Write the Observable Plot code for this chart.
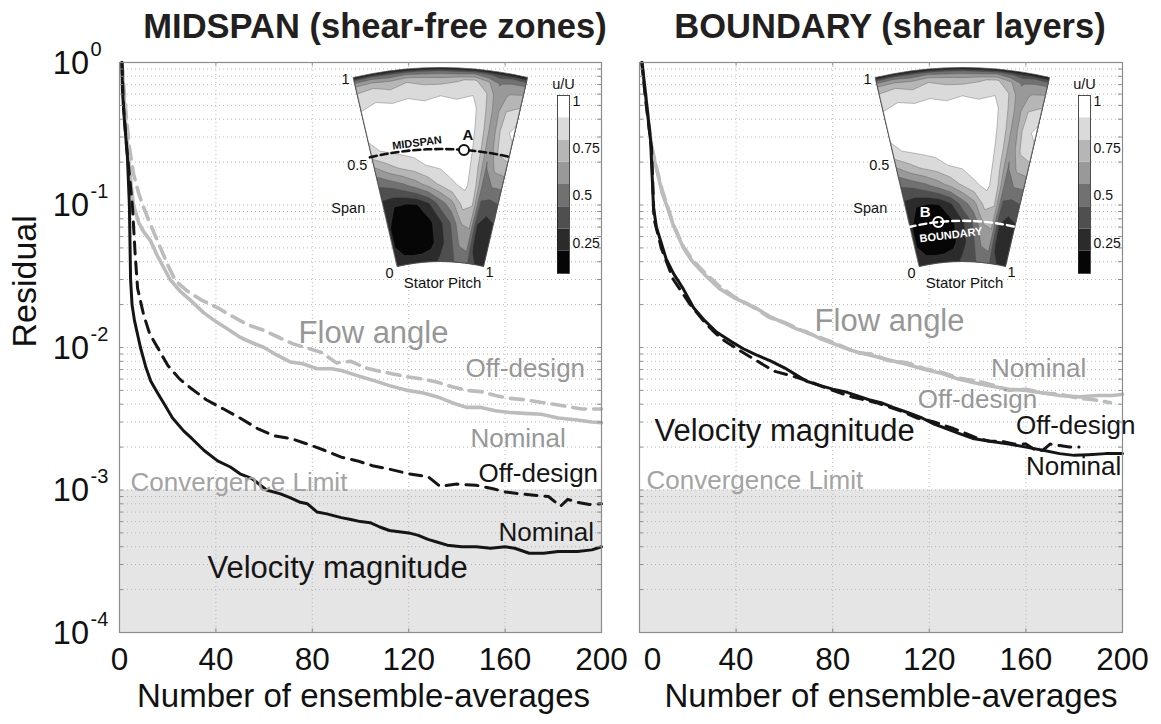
<!DOCTYPE html>
<html>
<head>
<meta charset="utf-8">
<script src="https://cdn.jsdelivr.net/npm/d3@7"></script>
<script src="https://cdn.jsdelivr.net/npm/@observablehq/plot@0.6"></script>
<style>
  body { margin: 0; background: #fff; }
  #chart { position: relative; width: 1161px; height: 724px; overflow: hidden; font-family: "Liberation Sans", Arial, sans-serif; }
  .layer { position: absolute; }
  .title { position: absolute; top: 9px; width: 600px; line-height: 1; font-weight: bold; font-size: 34.5px; color: #231f20; text-align: center; white-space: nowrap; }
</style>
</head>
<body>
<div id="chart"></div>
<script>
// ---------------------------------------------------------------------------
// Axes
const xTicks = [0, 40, 80, 120, 160, 200];
const decades = [1e-4, 1e-3, 1e-2, 1e-1, 1];
const convergenceLimit = 1e-3;

// ---------------------------------------------------------------------------
// Residual histories: [number of ensemble-averages, residual]
const midspanFlowNominal = [
  [1, 1.0], [1.7, 0.64], [2.5, 0.38], [3.7, 0.215], [5, 0.13], [5.8, 0.1], [8, 0.075], [10, 0.065],
  [12.9, 0.056], [16, 0.043], [21, 0.030], [25, 0.025], [29.5, 0.0214], [35, 0.0175], [40, 0.0152],
  [46, 0.0131], [50, 0.0118], [55, 0.0108], [60, 0.0100], [65, 0.0089], [71, 0.0079], [76, 0.0077],
  [82, 0.0071], [88, 0.0071], [92, 0.0069], [98, 0.0064], [105, 0.0059], [112, 0.0054], [119.5, 0.0050],
  [126, 0.0048], [132, 0.0045], [138, 0.0041], [144, 0.0038], [150, 0.0038], [156, 0.0036],
  [162, 0.0035], [168, 0.00345], [175, 0.0034], [182, 0.0032], [190, 0.0031], [196, 0.0030], [200, 0.00297]
];
const midspanFlowOffDesign = [
  [1, 1.0], [2.5, 0.48], [4, 0.26], [5.8, 0.166], [8, 0.12], [10, 0.096], [13, 0.072], [17, 0.05],
  [20, 0.038], [23.2, 0.0295], [28, 0.025], [34, 0.0215], [40.7, 0.019], [47, 0.0165], [53, 0.0145],
  [59.8, 0.0132], [66, 0.0118], [72, 0.0106], [78, 0.0099], [84, 0.0092], [90, 0.0078], [96, 0.0080],
  [102, 0.0072], [108, 0.0068], [114, 0.0065], [120, 0.0062], [126, 0.0060], [132, 0.0057],
  [138, 0.0053], [144, 0.0050], [150, 0.0049], [156, 0.0046], [162, 0.0044], [168, 0.0043],
  [176, 0.0041], [184, 0.0039], [192, 0.0037], [200, 0.0037]
];
const midspanVelocityNominal = [
  [1, 1.0], [1.2, 0.64], [2, 0.4], [3.3, 0.215], [4.1, 0.1], [4.6, 0.03], [5.2, 0.02], [6.2, 0.0155],
  [8.7, 0.01], [11, 0.0072], [13, 0.0058], [15.8, 0.0048], [19, 0.0039], [22, 0.0032], [26.6, 0.0026],
  [30, 0.0023], [35, 0.0019], [40.7, 0.0016], [46, 0.00145], [50, 0.0013], [55, 0.0012], [58.5, 0.00108],
  [61, 0.00100], [66.8, 0.00094], [71, 0.00088], [75, 0.00082], [78, 0.00080], [82, 0.00070],
  [86, 0.00068], [92, 0.00064], [96, 0.00062], [100, 0.00060], [104, 0.00059], [108, 0.00055],
  [112, 0.00052], [116, 0.00051], [120, 0.00050], [124, 0.00048], [128, 0.00045], [132, 0.00043],
  [136, 0.00041], [142, 0.00040], [148, 0.00040], [154, 0.00039], [160, 0.00040], [164, 0.00039],
  [170, 0.00036], [176, 0.00036], [182, 0.00037], [190, 0.00037], [196, 0.00038], [200, 0.00040]
];
const midspanVelocityOffDesign = [
  [1, 1.0], [1.7, 0.48], [3, 0.25], [4.5, 0.14], [5.4, 0.096], [6.5, 0.045], [7.5, 0.026], [10, 0.017],
  [12.5, 0.0125], [15.8, 0.01], [20, 0.0075], [25, 0.006], [29.5, 0.0052], [36, 0.0043], [43.2, 0.0037],
  [50, 0.0032], [57.3, 0.0027], [64, 0.0024], [71, 0.0023], [78, 0.0021], [85, 0.0019], [92, 0.0017],
  [98.8, 0.0016], [105, 0.00148], [112, 0.0014], [120, 0.0013], [128, 0.00124], [133, 0.00106],
  [140, 0.0011], [148, 0.00108], [155, 0.00102], [160, 0.00097], [166, 0.00094], [172, 0.00092],
  [178, 0.00090], [183, 0.00077], [186, 0.00086], [190, 0.00082], [195, 0.00079], [200, 0.00080]
];

const boundaryFlowNominal = [
  [1, 1.0], [2, 0.7], [3.3, 0.45], [5, 0.25], [7.5, 0.166], [9.5, 0.12], [11.6, 0.096], [14, 0.072],
  [18.2, 0.05], [22, 0.04], [27.4, 0.032], [33, 0.026], [39, 0.0224], [44, 0.0205], [48, 0.019],
  [54, 0.0165], [60, 0.0148], [65, 0.0135], [69.2, 0.0129], [75, 0.0115], [80, 0.0107], [85, 0.0099],
  [90, 0.0093], [96, 0.0088], [103, 0.0082], [111, 0.0076], [118, 0.0070], [125, 0.0066], [132, 0.0060],
  [140, 0.0056], [147, 0.0053], [153, 0.0051], [160, 0.0050], [167, 0.0048], [174, 0.0046],
  [182, 0.0045], [190, 0.0046], [196, 0.0046], [200, 0.0047]
];
const boundaryFlowOffDesign = [
  [1, 1.0], [2, 0.7], [3.3, 0.45], [5, 0.26], [7.5, 0.17], [9.5, 0.125], [11.6, 0.098], [14, 0.073],
  [18.2, 0.051], [22, 0.041], [27.4, 0.033], [33, 0.027], [39, 0.0228], [44, 0.0205], [48, 0.0188],
  [54, 0.0162], [60, 0.0150], [65, 0.0137], [69.2, 0.0127], [75, 0.0117], [80, 0.0109], [85, 0.0100],
  [90, 0.0092], [96, 0.0090], [103, 0.0081], [111, 0.0078], [118, 0.0071], [125, 0.0067], [132, 0.0061],
  [140, 0.0058], [147, 0.0054], [153, 0.0050], [160, 0.0051], [167, 0.0048], [174, 0.0047],
  [182, 0.0044], [188, 0.0043], [195, 0.0041]
];
const boundaryVelocityNominal = [
  [1, 1.0], [2.5, 0.6], [4.6, 0.284], [5.8, 0.096], [7, 0.07], [8.7, 0.0564], [11, 0.042], [14.1, 0.033],
  [18, 0.026], [22.4, 0.019], [26.9, 0.0155], [32, 0.0128], [38, 0.011], [43, 0.0098], [48.1, 0.0089],
  [54, 0.0081], [60, 0.0072], [65, 0.0064], [69.2, 0.0058], [75, 0.0054], [80, 0.0051], [85, 0.0049],
  [90, 0.0046], [95, 0.0043], [100, 0.0041], [105, 0.0038], [111, 0.0035], [117, 0.0032], [122, 0.0029],
  [127, 0.0027], [132.2, 0.0025], [138, 0.0023], [145, 0.0022], [153, 0.0021], [160, 0.0020],
  [167, 0.0019], [174, 0.0018], [180, 0.00175], [186, 0.00177], [193, 0.0018], [200, 0.0018]
];
const boundaryVelocityOffDesign = [
  [1, 1.0], [2.5, 0.55], [5, 0.25], [6, 0.08], [9, 0.05], [14, 0.03], [21, 0.02], [27, 0.015],
  [31, 0.0128], [35, 0.0112], [42, 0.0094], [50, 0.0078], [56, 0.0068], [62, 0.0064], [70, 0.0058],
  [76, 0.0053], [83, 0.0048], [88, 0.0045], [93, 0.0043], [98, 0.0041], [102, 0.0039], [108, 0.0036],
  [115, 0.0032], [122, 0.0030], [130, 0.0027], [135, 0.0025], [140, 0.0023], [145, 0.0022],
  [150, 0.0022], [155, 0.0021], [160, 0.0021], [164, 0.0019], [167, 0.0019], [170, 0.0021],
  [174, 0.00205], [178, 0.0020], [182, 0.0020]
];

// In-plot annotations: x, residual at the text baseline
const midspanLabels = [
  {x: 74.3, y: 0.01067, text: "Flow angle", tone: "grey", size: 31},
  {x: 143.6, y: 0.00616, text: "Off-design", tone: "grey", size: 26},
  {x: 145.6, y: 0.00199, text: "Nominal", tone: "grey", size: 26},
  {x: 149, y: 0.00113, text: "Off-design", tone: "black", size: 26},
  {x: 157.3, y: 0.000442, text: "Nominal", tone: "black", size: 26},
  {x: 36.5, y: 0.000243, text: "Velocity magnitude", tone: "black", size: 31},
  {x: 4.6, y: 0.00099, text: "Convergence Limit", tone: "limit", size: 26}
];
const boundaryLabels = [
  {x: 72.5, y: 0.01316, text: "Flow angle", tone: "grey", size: 31},
  {x: 145.5, y: 0.00616, text: "Nominal", tone: "grey", size: 26},
  {x: 115.2, y: 0.00379, text: "Off-design", tone: "grey", size: 26},
  {x: 6.2, y: 0.00222, text: "Velocity magnitude", tone: "black", size: 31},
  {x: 155.9, y: 0.00249, text: "Off-design", tone: "black", size: 26},
  {x: 160, y: 0.001265, text: "Nominal", tone: "black", size: 26},
  {x: 2.9, y: 0.00102, text: "Convergence Limit", tone: "limit", size: 26}
];

// ---------------------------------------------------------------------------
// Stator-exit velocity field u/U over pitch (columns) and span (rows, tip first)
const pitchCols = [0, 0.1, 0.2, 0.3, 0.4, 0.5, 0.6, 0.7, 0.78, 0.85, 0.92, 1];
const spanRows = [1, 0.98, 0.94, 0.88, 0.8, 0.7, 0.6, 0.5, 0.4, 0.3, 0.2, 0.1, 0];
const velocityRatio = [
  [0.12, 0.12, 0.12, 0.12, 0.12, 0.12, 0.12, 0.12, 0.12, 0.12, 0.12, 0.12],
  [0.48, 0.50, 0.46, 0.50, 0.48, 0.50, 0.47, 0.52, 0.45, 0.40, 0.42, 0.40],
  [0.74, 0.76, 0.72, 0.78, 0.75, 0.72, 0.78, 0.82, 0.70, 0.55, 0.60, 0.62],
  [0.86, 0.89, 0.84, 0.88, 0.85, 0.89, 0.86, 0.90, 0.80, 0.60, 0.70, 0.72],
  [0.93, 0.95, 0.96, 0.96, 0.95, 0.96, 0.96, 0.96, 0.82, 0.62, 0.80, 0.86],
  [0.94, 0.97, 0.97, 0.97, 0.97, 0.97, 0.97, 0.96, 0.84, 0.60, 0.86, 0.95],
  [0.88, 0.93, 0.96, 0.97, 0.97, 0.97, 0.97, 0.96, 0.84, 0.58, 0.82, 0.87],
  [0.62, 0.74, 0.82, 0.87, 0.92, 0.94, 0.96, 0.96, 0.82, 0.55, 0.70, 0.72],
  [0.40, 0.44, 0.52, 0.62, 0.72, 0.82, 0.90, 0.94, 0.84, 0.50, 0.55, 0.55],
  [0.26, 0.20, 0.18, 0.21, 0.32, 0.50, 0.64, 0.84, 0.80, 0.42, 0.36, 0.40],
  [0.22, 0.15, 0.13, 0.15, 0.18, 0.30, 0.45, 0.68, 0.70, 0.32, 0.28, 0.30],
  [0.22, 0.15, 0.13, 0.14, 0.17, 0.28, 0.40, 0.58, 0.60, 0.30, 0.25, 0.28],
  [0.32, 0.26, 0.26, 0.26, 0.28, 0.35, 0.42, 0.46, 0.50, 0.36, 0.30, 0.30]
];
const bandEdges = [0.09, 0.2075, 0.325, 0.4425, 0.56, 0.6775, 0.795, 0.9125, 1.03];
const bandGreys = ["#060606", "#2b2b2b", "#4f4f4f", "#717171", "#999999", "#b6b6b6", "#dadada", "#ffffff"];
const colorbarTicks = [0.25, 0.5, 0.75, 1];
const midspanSpan = 0.58, pointAPitch = 0.67;
const boundarySpan = 0.21, pointBPitch = 0.27;

// ---------------------------------------------------------------------------
const FONT = "Liberation Sans, Arial, sans-serif";
const GREY_LINE = "#bcbcbc", BLACK_LINE = "#151515";
const TONE = {grey: "#979797", black: "#151515", limit: "#a3a3a3"};
const chart = document.getElementById("chart");

function place(node, left, top) {
  const wrap = document.createElement("div");
  wrap.className = "layer";
  wrap.style.left = left + "px";
  wrap.style.top = top + "px";
  wrap.appendChild(node);
  chart.appendChild(wrap);
}

function mainPanel({curves, labels, yLabels, width, marginLeft, marginRight, zeroDx, xLabelDx}) {
  const xy = {x: (d) => d[0], y: (d) => d[1]};
  const gridY = decades.slice(0, -1).flatMap((d) => [1, 2, 3, 4, 5, 6, 7, 8, 9].map((k) => k * d)).concat([1]);
  const band = [{x1: 0, x2: 200, y1: decades[0], y2: convergenceLimit}];
  const dotted = {stroke: "#aaaaaa", strokeWidth: 0.8, strokeDasharray: "1,3"};
  const tick = {stroke: "#8c8c8c", strokeWidth: 1};
  const tickText = {frameAnchor: "bottom", dy: 37, lineAnchor: "bottom", fontSize: 31.5, fill: "#111"};
  const marks = [
    Plot.rect(band, {x1: "x1", x2: "x2", y1: "y1", y2: "y2", fill: "#e5e5e5"}),
    Plot.ruleY(gridY.slice(1, -1), dotted),
    Plot.ruleX(xTicks.slice(1, -1), dotted),
    ...curves.map(([data, style]) => Plot.line(data, {...xy, ...style})),
    ...labels.map((d) => Plot.text([d], {
      x: "x", y: "y", text: "text", fill: TONE[d.tone], fontSize: d.size,
      textAnchor: "start", lineAnchor: "bottom"
    })),
    Plot.frame({stroke: "#8c8c8c", strokeWidth: 1.2}),
    Plot.ruleY(gridY, {x1: 0, x2: 1.6, ...tick}),
    Plot.ruleY(gridY, {x1: 198.4, x2: 200, ...tick}),
    Plot.ruleX(xTicks, {y1: decades[0], y2: decades[0] * 1.06, ...tick}),
    Plot.ruleX(xTicks, {y1: 1 / 1.06, y2: 1, ...tick}),
    Plot.text(xTicks.slice(1), {x: (d) => d, text: (d) => String(d), ...tickText}),
    Plot.text([0], {x: (d) => d, text: (d) => String(d), dx: zeroDx, ...tickText}),
    Plot.text(["Number of ensemble-averages"], {frameAnchor: "bottom", dx: xLabelDx, dy: 74, lineAnchor: "bottom", fontSize: 33, fill: "#111"})
  ];
  if (yLabels) {
    marks.push(
      Plot.text(decades, {x: 0, y: (d) => d, text: () => "10", textAnchor: "end", dx: -30.5, dy: 1, fontSize: 32.5, fill: "#111"}),
      Plot.text(decades, {x: 0, y: (d) => d, text: (d) => String(Math.round(Math.log10(d))), textAnchor: "start", dx: -29, dy: -13, fontSize: 20, fill: "#111"}),
      Plot.text(["Residual"], {frameAnchor: "left", dx: -94, rotate: -90, fontSize: 34, fill: "#111"})
    );
  }
  return Plot.plot({
    width, height: 724, marginLeft, marginRight, marginTop: 62, marginBottom: 92,
    x: {domain: [0, 200], axis: null},
    y: {type: "log", domain: [decades[0], decades[decades.length - 1]], axis: null},
    style: {fontFamily: FONT, background: "transparent", overflow: "visible"},
    marks
  });
}

// Fan-shaped stator passage: pitch sweeps the arc, span runs hub to tip
const FAN = {cx: 110, cy: 391, rHub: 190, rTip: 384, sweep: 26.2 * Math.PI / 180};
const fanProjection = d3.geoTransform({
  point(p, s) {
    const r = FAN.rHub + s * (FAN.rTip - FAN.rHub);
    const a = (p - 0.5) * FAN.sweep;
    this.stream.point(FAN.cx + r * Math.sin(a), FAN.cy - r * Math.cos(a));
  }
});

function gridToPitchSpan(arr, c) {
  const t = Math.max(0, Math.min(arr.length - 1, c - 0.5));
  const i = Math.min(arr.length - 2, Math.floor(t));
  return arr[i] + (t - i) * (arr[i + 1] - arr[i]);
}

const contourGen = d3.contours().size([pitchCols.length, spanRows.length]).thresholds(bandEdges.slice(1, -1));
const contourBands = contourGen(velocityRatio.flat()).map((c, k) => ({
  fill: bandGreys[k + 1],
  geometry: {
    type: "MultiPolygon",
    coordinates: c.coordinates.map((poly) => poly.map((ring) => ring.map(([a, b]) => [
      gridToPitchSpan(pitchCols, a), gridToPitchSpan(spanRows, b)
    ])))
  }
}));
const sectorRing = [...pitchCols.map((p) => [p, 0]), ...pitchCols.slice().reverse().map((p) => [p, 1]), [0, 0]];
const sector = {type: "Polygon", coordinates: [sectorRing]};
const tracePitch = [-0.015, ...pitchCols, 1.015];

function inset(kind) {
  const ps = {x: "p", y: "s"};
  const small = {fontSize: 14.5, fill: "#111"};
  const marks = [
    Plot.geo([sector], {fill: bandGreys[0]}),
    ...contourBands.map((b) => Plot.geo([b.geometry], {fill: b.fill, stroke: "#4a4a4a", strokeWidth: 0.35})),
    Plot.geo([sector], {fill: "none", stroke: "#555", strokeWidth: 0.8}),
    Plot.text([{p: 0, s: 1}], {...ps, text: () => "1", textAnchor: "end", dx: -4, dy: 2, ...small}),
    Plot.text([{p: 0, s: 0.5}], {...ps, text: () => "0.5", textAnchor: "end", dx: -8, dy: -7, ...small}),
    Plot.text([{p: 0, s: 0.3}], {...ps, text: () => "Span", textAnchor: "end", dx: -19, dy: -1, ...small}),
    Plot.text([{p: 0, s: 0}], {...ps, text: () => "0", dx: -8, dy: 7, ...small}),
    Plot.text([{p: 1, s: 0}], {...ps, text: () => "1", dx: 6, dy: 6, ...small}),
    Plot.text([{p: 0.5, s: 0}], {...ps, text: () => "Stator Pitch", dx: 2, dy: 22, fontSize: 15, fill: "#111"})
  ];
  if (kind === "midspan") {
    marks.push(
      Plot.line(tracePitch.map((p) => ({p, s: midspanSpan})), {...ps, stroke: "#111", strokeWidth: 2.6, strokeDasharray: "7,4"}),
      Plot.dot([{p: pointAPitch, s: midspanSpan}], {...ps, r: 5, fill: "white", stroke: "#111", strokeWidth: 2}),
      Plot.text([{p: pointAPitch, s: midspanSpan}], {...ps, text: () => "A", dx: 4, dy: -15, fontSize: 15, fontWeight: "bold", fill: "#111"}),
      Plot.text([{p: 0.33, s: midspanSpan}], {...ps, text: () => "MIDSPAN", dy: -7, rotate: -7, fontSize: 11, fontWeight: "bold", fill: "#111"})
    );
  } else {
    marks.push(
      Plot.line(tracePitch.map((p) => ({p, s: boundarySpan})), {...ps, stroke: "#fff", strokeWidth: 2.4, strokeDasharray: "7,4"}),
      Plot.dot([{p: pointBPitch, s: boundarySpan}], {...ps, r: 5, fill: "none", stroke: "#fff", strokeWidth: 2}),
      Plot.text([{p: pointBPitch, s: boundarySpan}], {...ps, text: () => "B", dx: -13, dy: -10, fontSize: 15, fontWeight: "bold", fill: "#fff"}),
      Plot.text([{p: 0.4, s: boundarySpan}], {...ps, text: () => "BOUNDARY", dx: -1, dy: 14, rotate: -7, fontSize: 11, fontWeight: "bold", fill: "#fff"})
    );
  }
  return Plot.plot({
    width: 215, height: 240, margin: 0,
    projection: fanProjection,
    style: {fontFamily: FONT, background: "transparent", overflow: "visible"},
    marks
  });
}

function colorbar() {
  const bands = bandGreys.map((fill, i) => ({y1: bandEdges[i], y2: bandEdges[i + 1], fill}));
  return Plot.plot({
    width: 64, height: 204, marginTop: 25, marginBottom: 1, marginLeft: 0, marginRight: 52,
    x: {domain: [0, 1], axis: null},
    y: {domain: [bandEdges[0], bandEdges[bandEdges.length - 1]], axis: null},
    style: {fontFamily: FONT, background: "transparent", overflow: "visible"},
    marks: [
      ...bands.map((b) => Plot.rect([b], {x1: 0, x2: 1, y1: "y1", y2: "y2", fill: b.fill})),
      Plot.frame({stroke: "#222", strokeWidth: 0.8}),
      Plot.axisY(colorbarTicks, {anchor: "right", tickSize: 0, tickPadding: 3, tickFormat: (d) => String(d), fontSize: 14, fill: "#111"}),
      Plot.text(["u/U"], {frameAnchor: "top", dy: -17, fontSize: 14.5, fill: "#111"})
    ]
  });
}

// ---------------------------------------------------------------------------
const flowNominal = {stroke: GREY_LINE, strokeWidth: 3.6};
const flowOff = {stroke: GREY_LINE, strokeWidth: 3.6, strokeDasharray: "13,8"};
const velNominal = {stroke: BLACK_LINE, strokeWidth: 3};
const velOff = {stroke: BLACK_LINE, strokeWidth: 3, strokeDasharray: "12,8"};

place(mainPanel({
  curves: [[midspanFlowNominal, flowNominal], [midspanFlowOffDesign, flowOff], [midspanVelocityOffDesign, velOff], [midspanVelocityNominal, velNominal]],
  labels: midspanLabels, yLabels: true, width: 615, marginLeft: 119, marginRight: 14, zeroDx: 0, xLabelDx: 3
}), 0, 0);
place(mainPanel({
  curves: [[boundaryFlowNominal, flowNominal], [boundaryFlowOffDesign, flowOff], [boundaryVelocityOffDesign, velOff], [boundaryVelocityNominal, velNominal]],
  labels: boundaryLabels, yLabels: false, width: 546, marginLeft: 24, marginRight: 39, zeroDx: 13, xLabelDx: 10
}), 615, 0);

place(inset("midspan"), 330, 60);
place(colorbar(), 557, 70);
place(inset("boundary"), 852, 60);
place(colorbar(), 1077.5, 70);

for (const [text, center] of [["MIDSPAN (shear-free zones)", 375], ["BOUNDARY (shear layers)", 890]]) {
  const t = document.createElement("div");
  t.className = "title";
  t.style.left = (center - 300) + "px";
  t.textContent = text;
  chart.appendChild(t);
}
</script>
</body>
</html>
